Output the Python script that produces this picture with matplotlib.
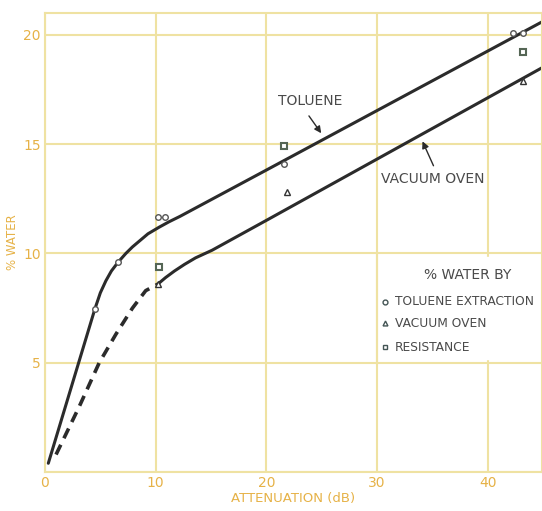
import matplotlib.pyplot as plt

# curves (attenuation dB, % water)
toluene_x = [0.3, 3.1, 4.5, 5.0, 5.5, 6.0, 6.6, 7.3, 7.9, 8.6, 9.3, 10.3, 11.2, 12.2, 20.3, 44.9]
toluene_y = [0.4, 5.1, 7.45, 8.2, 8.75, 9.2, 9.6, 10.0, 10.3, 10.6, 10.9, 11.2, 11.45, 11.7, 13.9, 20.6]
oven_dash_x = [1.0, 3.1, 4.9, 6.4, 7.9, 9.1, 10.2]
oven_dash_y = [0.8, 3.0, 5.0, 6.3, 7.5, 8.3, 8.6]
oven_x = [10.2, 10.9, 11.7, 12.6, 13.6, 15.1, 20.3, 44.9]
oven_y = [8.6, 8.9, 9.2, 9.5, 9.8, 10.15, 11.6, 18.5]

# measured points
tol_pts_x = [4.5, 6.6, 10.2, 10.8, 21.6, 42.3, 43.2]
tol_pts_y = [7.45, 9.6, 11.65, 11.65, 14.1, 20.1, 20.1]
vac_pts_x = [10.2, 21.9, 43.2]
vac_pts_y = [8.6, 12.8, 17.9]
res_pts_x = [10.3, 21.6, 43.2]
res_pts_y = [9.4, 14.9, 19.2]

xticks = [0, 10, 20, 30, 40]
yticks = [0, 5, 10, 15, 20]

grid_c = '#efe2a2'
tick_c = '#e6b247'
ink = '#2b2b2b'
txt_c = '#4a4a4a'

fig = plt.figure(figsize=(5.42, 5.11), dpi=100)
ax = fig.add_axes([0.083, 0.0763, 0.917, 0.898])
ax.set_xlim(0, 44.9)
ax.set_ylim(0, 21)

for x in xticks:
    ax.axvline(x, color=grid_c, lw=1.5, zorder=0)
for y in yticks:
    ax.axhline(y, color=grid_c, lw=1.5, zorder=0)
for s in ax.spines.values():
    s.set_color(grid_c)
    s.set_linewidth(1.5)

ax.set_xticks(xticks)
ax.set_yticks(yticks)
ax.set_yticklabels(['', '5', '10', '15', '20'])
ax.tick_params(length=0, colors=tick_c, labelsize=10, pad=3)
ax.set_xlabel('ATTENUATION (dB)', color=tick_c, fontsize=9.5, labelpad=1)
ax.set_ylabel('% WATER', color=tick_c, fontsize=8.5, labelpad=3)

# curves
ax.plot(toluene_x, toluene_y, color=ink, lw=2.2, solid_capstyle='round', zorder=2)
ax.plot(oven_dash_x, oven_dash_y, color=ink, lw=2.6, dashes=(3, 2), zorder=2)
ax.plot(oven_x, oven_y, color=ink, lw=2.2, solid_capstyle='round', zorder=2)

# points
ax.plot(tol_pts_x, tol_pts_y, 'o', ms=4, mfc='white', mec='#555555', mew=1, zorder=3)
ax.plot(vac_pts_x, vac_pts_y, '^', ms=4, mfc='white', mec='#333333', mew=1, zorder=3)
ax.plot(res_pts_x, res_pts_y, 's', ms=4.5, mfc='white', mec='#556655', mew=1.5, zorder=3)

# labels with arrows
ax.text(24.0, 17.0, 'TOLUENE', color=txt_c, fontsize=10, ha='center', va='center')
ax.annotate('', xy=(25.1, 15.4), xytext=(23.7, 16.4),
            arrowprops=dict(arrowstyle='-|>', color=ink, lw=1, mutation_scale=10))
ax.text(35.0, 13.4, 'VACUUM OVEN', color=txt_c, fontsize=10, ha='center', va='center')
ax.annotate('', xy=(34.0, 15.25), xytext=(35.2, 13.9),
            arrowprops=dict(arrowstyle='-|>', color=ink, lw=1, mutation_scale=10))

# legend block
ax.fill_between([30.6, 44.9], 5.15, 9.85, color='white', zorder=1)
ax.axvline(30, ymin=5 / 21, ymax=10 / 21, color=grid_c, lw=1.5, zorder=1)
ax.text(38.2, 9.0, '% WATER BY', color=txt_c, fontsize=10, ha='center', va='center')
leg_y = [7.8, 6.8, 5.7]
leg_txt = ['TOLUENE EXTRACTION', 'VACUUM OVEN', 'RESISTANCE']
leg_mk = ['o', '^', 's']
for ly, lt, lm in zip(leg_y, leg_txt, leg_mk):
    ax.plot([30.7], [ly], lm, ms=3.5, mfc='white', mec='#445555', mew=1, zorder=3)
    ax.text(31.6, ly, lt, color=txt_c, fontsize=8.8, ha='left', va='center')

fig.savefig('out.png', dpi=100)
